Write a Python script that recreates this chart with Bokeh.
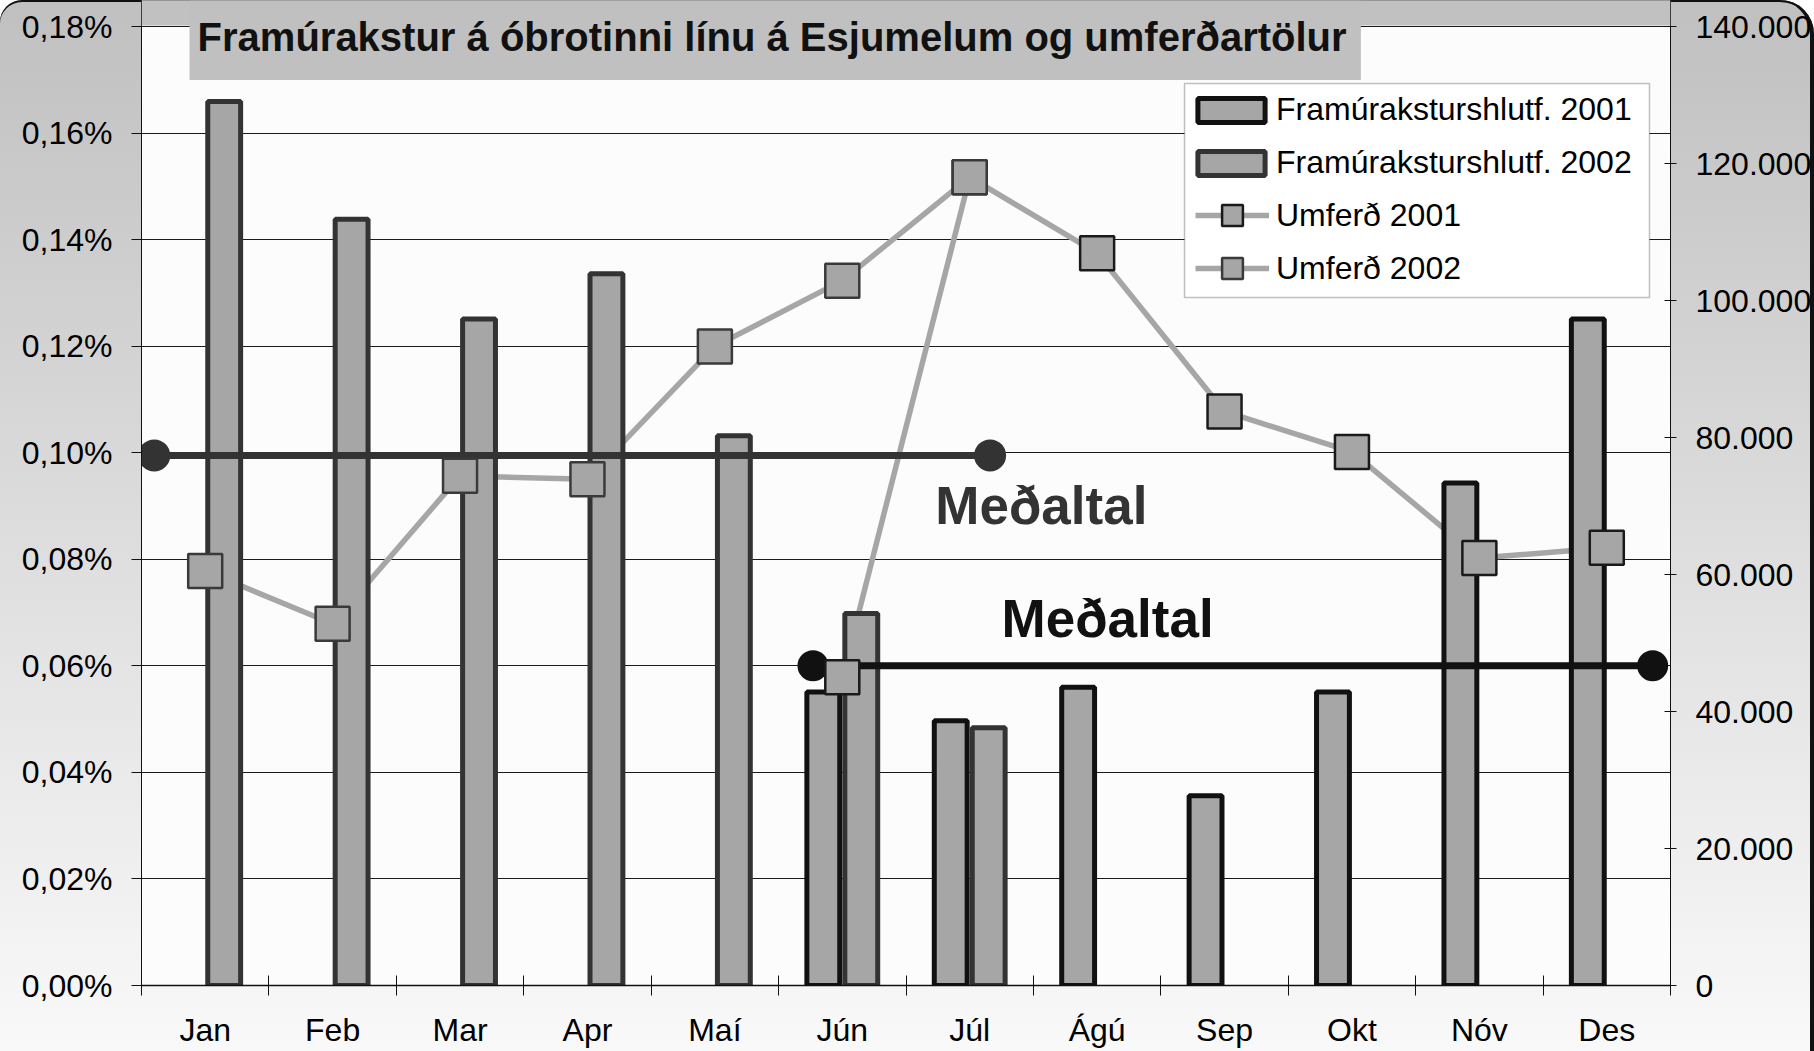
from bokeh.plotting import figure
from bokeh.models import (Range1d, LinearAxis, FixedTicker, CustomJSTickFormatter,
                          Legend, LegendItem, BoxAnnotation, Label)
from bokeh.embed import file_html
from bokeh.resources import INLINE

# ---------------- data ----------------
months = ["Jan", "Feb", "Mar", "Apr", "Maí", "Jún", "Júl", "Ágú", "Sep", "Okt", "Nóv", "Des"]
# Framúrakstur hlutfall (%)
rate_2001 = [None, None, None, None, None, 0.0551, 0.0497, 0.0560, 0.0356, 0.0551, 0.0943, 0.1251]
rate_2002 = [0.1659, 0.1438, 0.1251, 0.1336, 0.1032, 0.0698, 0.0484, None, None, None, None, None]
# Umferð (bílar)
traffic_2001 = [None, None, None, None, None, 45000, 118000, 106900, 83800, 77900, 62400, 63900]
traffic_2002 = [60500, 52800, 74400, 73900, 93300, 102900, 118000, None, None, None, None, None]
# Meðaltöl (%)
avg_2002 = 0.0995
avg_2001 = 0.0600
left_ticks = [0.00, 0.02, 0.04, 0.06, 0.08, 0.10, 0.12, 0.14, 0.16, 0.18]
right_ticks = [0, 20000, 40000, 60000, 80000, 100000, 120000, 140000]
title = "Framúrakstur á óbrotinni línu á Esjumelum og umferðartölur"
series_names = ["Framúrakstur" + "shlutf. 2001", "Framúrakstur" + "shlutf. 2002",
                "Umferð 2001", "Umferð 2002"]
avg_label = "Meðaltal"

FONT = "Liberation Sans"
BAR_FILL = "#A6A6A6"
Y_TOP = 0.18 * 985 / 959  # room above 0,18% for the title strip

p = figure(width=1814, height=1051, output_backend="svg", toolbar_location=None,
           x_range=Range1d(0, 12), y_range=Range1d(0, Y_TOP),
           min_border_left=141, min_border_right=144, min_border_top=0, min_border_bottom=66,
           background_fill_color="#FCFCFC", border_fill_alpha=0, outline_line_color=None)
p.styles = {
    "background": "linear-gradient(to bottom, #C0C0C0 0%, #F9F9F9 100%)",
    "border-radius": "22px 34px 0 0",
    "box-shadow": "inset 0 2px 0 #111111, inset -4px 0 0 #111111",
}
p.extra_y_ranges = {"traffic": Range1d(0, 140000 * Y_TOP / 0.18)}

# x axis
xa = p.xaxis[0]
xa.ticker = FixedTicker(ticks=[i + 0.5 for i in range(12)], minor_ticks=list(range(13)))
xa.formatter = CustomJSTickFormatter(args=dict(months=months), code="return months[Math.floor(tick)];")
xa.major_tick_line_color = None
xa.major_tick_out = 0
xa.major_tick_in = 0
xa.minor_tick_in = 10
xa.minor_tick_out = 10
xa.minor_tick_line_color = "#111111"
xa.axis_line_color = "#111111"
xa.axis_line_width = 1.5
xa.major_label_text_font = FONT
xa.major_label_text_font_size = "32px"
xa.major_label_text_color = "#000000"
xa.major_label_standoff = 16

# left axis
ya = p.yaxis[0]
ya.ticker = FixedTicker(ticks=left_ticks)
ya.formatter = CustomJSTickFormatter(code="return tick.toFixed(2).replace('.', ',') + '%';")
ya.major_tick_out = 10
ya.major_tick_in = 0
ya.minor_tick_line_color = None
ya.axis_line_color = "#111111"
ya.major_tick_line_color = "#111111"
ya.major_label_text_font = FONT
ya.major_label_text_font_size = "32px"
ya.major_label_text_color = "#000000"
ya.major_label_standoff = 19

# right axis
ra = LinearAxis(y_range_name="traffic", ticker=FixedTicker(ticks=right_ticks),
                formatter=CustomJSTickFormatter(code="return tick === 0 ? '0' : (tick/1000).toFixed(0) + '.000';"))
ra.major_tick_out = 6
ra.major_tick_in = 6
ra.minor_tick_line_color = None
ra.axis_line_color = "#111111"
ra.major_tick_line_color = "#111111"
ra.major_label_text_font = FONT
ra.major_label_text_font_size = "32px"
ra.major_label_text_color = "#000000"
ra.major_label_standoff = 19
p.add_layout(ra, "right")

p.xgrid.visible = False
p.ygrid[0].ticker = FixedTicker(ticks=left_ticks)
p.ygrid.grid_line_color = "#1a1a1a"
p.ygrid.grid_line_width = 1

# strip above the plot area (same grey as background) + title box + title
p.add_layout(BoxAnnotation(bottom=0.18 + 0.18 / 959, fill_color="#C1C1C1", fill_alpha=1, line_color=None))
p.add_layout(BoxAnnotation(left=0.377, right=9.57, bottom=0.16998, fill_color="#C0C0C0",
                           fill_alpha=1, line_color=None))
p.add_layout(Label(x=0.44, y=0.17812, text=title, text_font=FONT, text_font_style="bold",
                   text_font_size="40px", text_baseline="middle", text_color="#111111"))

centers = [i + 0.5 for i in range(12)]

# traffic lines (behind bars)
x01 = [c for c, v in zip(centers, traffic_2001) if v is not None]
t01 = [v for v in traffic_2001 if v is not None]
x02 = [c for c, v in zip(centers, traffic_2002) if v is not None]
t02 = [v for v in traffic_2002 if v is not None]
l01 = p.line(x01, t01, y_range_name="traffic", line_color="#A6A6A6", line_width=5.5)
l02 = p.line(x02, t02, y_range_name="traffic", line_color="#A6A6A6", line_width=5.5)

# bars
BW = 0.258
OFF = 0.149
bx01 = [c - OFF for c, v in zip(centers, rate_2001) if v is not None]
b01 = [v for v in rate_2001 if v is not None]
bx02 = [c + OFF for c, v in zip(centers, rate_2002) if v is not None]
b02 = [v for v in rate_2002 if v is not None]
vb01 = p.vbar(x=bx01, top=b01, width=BW, fill_color=BAR_FILL, line_color="#111111", line_width=5)
vb02 = p.vbar(x=bx02, top=b02, width=BW, fill_color=BAR_FILL, line_color="#333333", line_width=5)

# average lines
p.line([0.10, 6.66], [avg_2002, avg_2002], line_color="#333333", line_width=7)
p.scatter([0.10, 6.66], [avg_2002, avg_2002], marker="circle", size=32, fill_color="#333333", line_color=None)
p.line([5.27, 11.86], [avg_2001, avg_2001], line_color="#111111", line_width=7)
p.scatter([5.27, 11.86], [avg_2001, avg_2001], marker="circle", size=31, fill_color="#111111", line_color=None)

# markers
m01 = p.scatter(x01, t01, y_range_name="traffic", marker="square", size=34,
                fill_color="#A6A6A6", line_color="#1a1a1a", line_width=2.5)
m02 = p.scatter(x02, t02, y_range_name="traffic", marker="square", size=34,
                fill_color="#A6A6A6", line_color="#3a3a3a", line_width=2.5)

# Meðaltal labels
p.add_layout(Label(x=6.23, y=0.0901, text=avg_label, text_font=FONT, text_font_style="bold",
                   text_font_size="53px", text_baseline="middle", text_color="#333333"))
p.add_layout(Label(x=6.75, y=0.0688, text=avg_label, text_font=FONT, text_font_style="bold",
                   text_font_size="53px", text_baseline="middle", text_color="#111111"))

# legend frame
p.add_layout(BoxAnnotation(left=8.186, right=11.835, top=0.16930, bottom=0.12913,
                           fill_color="#FFFFFF", fill_alpha=1, line_color="#333333", line_width=1.5))


def style_legend(lg):
    lg.label_text_font = FONT
    lg.label_text_font_size = "32px"
    lg.label_text_color = "#000000"
    lg.label_height = 37
    lg.padding = 0
    lg.margin = 0
    lg.border_line_color = None
    lg.background_fill_alpha = 0


legend_bars = Legend(items=[
    LegendItem(label=series_names[0], renderers=[vb01]),
    LegendItem(label=series_names[1], renderers=[vb02]),
], location=(1048, 804))
style_legend(legend_bars)
legend_bars.glyph_width = 84
legend_bars.glyph_height = 30
legend_bars.label_standoff = 3
legend_bars.spacing = 16
p.add_layout(legend_bars)

legend_lines = Legend(items=[
    LegendItem(label=series_names[2], renderers=[l01, m01]),
    LegendItem(label=series_names[3], renderers=[l02, m02]),
], location=(1054, 691))
style_legend(legend_lines)
legend_lines.glyph_width = 74
legend_lines.glyph_height = 52
legend_lines.label_standoff = 7
legend_lines.spacing = 1
p.add_layout(legend_lines)

open("out.html", "w").write(file_html(p, INLINE))
